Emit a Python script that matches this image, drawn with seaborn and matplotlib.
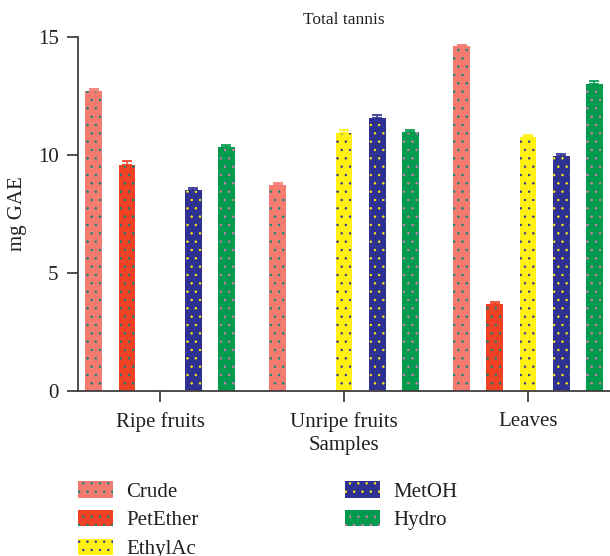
"""
Total tannis - grouped bar chart (mg GAE per sample and extract).
"""

import numpy as np
import pandas as pd
import matplotlib
matplotlib.use("Agg")
import matplotlib.pyplot as plt
import matplotlib.patches as mpatches
import seaborn as sns

# --- data ------------------------------------------------------------------
samples = ["Ripe fruits", "Unripe fruits", "Leaves"]
extracts = ["Crude", "PetEther", "EthylAc", "MetOH", "Hydro"]

# one value per sample (None = no bar)
crude = [12.7, 8.72, 14.6]
pet_ether = [9.58, None, 3.7]
ethyl_ac = [None, 10.95, 10.75]
met_oh = [8.5, 11.55, 9.95]
hydro = [10.35, 10.97, 13.0]

# upper error (SD)
crude_err = [0.1, 0.08, 0.05]
pet_ether_err = [0.15, 0.0, 0.08]
ethyl_ac_err = [0.0, 0.12, 0.1]
met_oh_err = [0.08, 0.15, 0.07]
hydro_err = [0.07, 0.1, 0.15]

y_ticks = [0, 5, 10, 15]

# bar colour and dot (hatch) colour per extract
bar_colors = ["#F47B70", "#EF4123", "#FFF212", "#2E3192", "#009B4C"]
dot_colors = ["#00897B", "#00897B", "#2E3192", "#FFF212", "#E279B0"]
TEXT = "#231F20"
AXIS = "#404040"

# --- long table for seaborn ------------------------------------------------
values = [crude, pet_ether, ethyl_ac, met_oh, hydro]
errors = [crude_err, pet_ether_err, ethyl_ac_err, met_oh_err, hydro_err]
rows = []
for ext, vals, errs in zip(extracts, values, errors):
    for s, v, e in zip(samples, vals, errs):
        if v is not None:
            rows.append({"sample": s, "extract": ext, "value": v, "err": e})
df = pd.DataFrame(rows)

# --- style -----------------------------------------------------------------
sns.set_style("ticks")
plt.rcParams["font.family"] = ["Liberation Serif", "DejaVu Serif"]
plt.rcParams["hatch.linewidth"] = 0.5
plt.rcParams["text.color"] = TEXT
plt.rcParams["axes.labelcolor"] = TEXT
plt.rcParams["xtick.color"] = AXIS
plt.rcParams["ytick.color"] = AXIS
plt.rcParams["xtick.labelcolor"] = TEXT
plt.rcParams["ytick.labelcolor"] = TEXT

fig = plt.figure(figsize=(6.1, 5.56), dpi=100)
ax = fig.add_axes([0.128, 0.297, 0.872, 0.6365])

sns.barplot(
    data=df, x="sample", y="value", hue="extract",
    order=samples, hue_order=extracts, palette=bar_colors,
    width=0.9, gap=0.49, errorbar=None, legend=False,
    linewidth=0, saturation=1, ax=ax,
)

# dots + upward error bars per extract
for i, (container, ext) in enumerate(zip(ax.containers, extracts)):
    sub = df[df["extract"] == ext]
    for bar, (_, row) in zip(container, sub.iterrows()):
        bar.set_hatch("..")
        bar.set_edgecolor(dot_colors[i])
        bar.set_linewidth(0)
        xc = bar.get_x() + bar.get_width() / 2
        ax.errorbar(xc, row["value"], yerr=[[0], [row["err"]]], fmt="none",
                    ecolor=bar_colors[i], elinewidth=1.2, capsize=3.6,
                    capthick=1.5, alpha=0.85, zorder=1)

ax.set_xlim(-0.446, 2.446)
ax.set_ylim(0, 15)
ax.set_yticks(y_ticks)
ax.set_title("Total tannis", fontsize=12.5, color=TEXT, pad=9)
ax.set_xlabel("Samples", fontsize=15, labelpad=3)
ax.set_ylabel("mg GAE", fontsize=15, labelpad=8)
ax.tick_params(axis="both", labelsize=15, length=8, width=1.3, direction="out")
ax.tick_params(axis="x", pad=7)
ax.tick_params(axis="y", pad=6)
sns.despine(ax=ax)
for side in ["left", "bottom"]:
    ax.spines[side].set_color(AXIS)
    ax.spines[side].set_linewidth(1.3)

# legend below the axes, 2 columns (3 + 2)
handles = [
    mpatches.Patch(facecolor=c, edgecolor=d, hatch="..", linewidth=0, label=e)
    for c, d, e in zip(bar_colors, dot_colors, extracts)
]
fig.legend(
    handles=handles, loc="upper left", bbox_to_anchor=(0.128, 0.134),
    ncol=2, frameon=False, fontsize=15, borderpad=0, borderaxespad=0,
    handlelength=1.7, handleheight=0.82, handletextpad=0.62,
    labelspacing=0.4, columnspacing=7.0,
)

fig.savefig("out.png", dpi=100)
